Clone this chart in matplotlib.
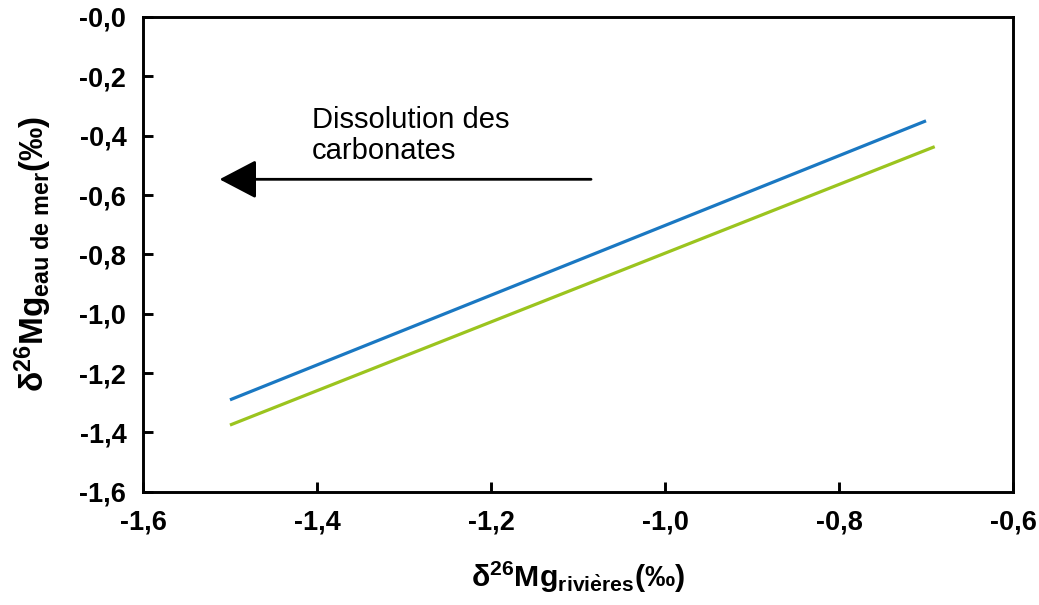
import matplotlib
matplotlib.use("Agg")
import matplotlib.pyplot as plt

plt.rcParams['font.family'] = ['Liberation Sans', 'DejaVu Sans']
plt.rcParams['mathtext.fontset'] = 'custom'
plt.rcParams['mathtext.rm'] = 'Liberation Sans'
plt.rcParams['mathtext.bf'] = 'Liberation Sans:bold'
plt.rcParams['mathtext.it'] = 'Liberation Sans:italic'

# deux droites de mélange
x_bleu = [-1.5, -0.70]
y_bleu = [-1.29, -0.35]
x_vert = [-1.5, -0.69]
y_vert = [-1.375, -0.437]

xticks = [-1.6, -1.4, -1.2, -1.0, -0.8, -0.6]
xtick_labels = ["-1,6", "-1,4", "-1,2", "-1,0", "-0,8", "-0,6"]
yticks = [0.0, -0.2, -0.4, -0.6, -0.8, -1.0, -1.2, -1.4, -1.6]
ytick_labels = ["-0,0", "-0,2", "-0,4", "-0,6", "-0,8", "-1,0", "-1,2", "-1,4", "-1,6"]

fig = plt.figure(figsize=(10.39, 6.05), dpi=100)
ax = fig.add_axes([0.1376, 0.187, 0.8374, 0.785])

ax.plot(x_bleu, y_bleu, color="#1a78c2", lw=2.3, solid_capstyle="butt")
ax.plot(x_vert, y_vert, color="#9bc41e", lw=2.3, solid_capstyle="butt")

ax.set_xlim(-1.6, -0.6)
ax.set_ylim(-1.6, 0.0)
ax.set_xticks(xticks)
ax.set_xticklabels(xtick_labels)
ax.set_yticks(yticks)
ax.set_yticklabels(ytick_labels)
ax.tick_params(direction="in", length=7, width=2.1, labelsize=19.5)
ax.tick_params(axis="y", pad=12)
ax.tick_params(axis="x", pad=13)
for lab in ax.get_xticklabels() + ax.get_yticklabels():
    lab.set_fontweight("bold")
for s in ax.spines.values():
    s.set_linewidth(2.1)

# flèche
ax.annotate("", xy=(-1.512, -0.547), xytext=(-1.085, -0.547),
            arrowprops=dict(arrowstyle="-|>,head_length=1.05,head_width=0.55",
                            color="black", lw=2.0, mutation_scale=22,
                            shrinkA=0, shrinkB=0))
ax.text(-1.406, -0.30, "Dissolution des\ncarbonates", fontsize=21,
        ha="left", va="top", linespacing=1.15)

ax.set_xlabel(r"$\mathbf{\delta^{26}Mg_{rivi\`eres}(‰)}$", fontsize=21.8, labelpad=17)
ax.set_ylabel(r"$\mathbf{\delta^{26}Mg_{eau\ de\ mer}(‰)}$", fontsize=24, labelpad=18)

fig.savefig("out.png", dpi=100, facecolor="white")
